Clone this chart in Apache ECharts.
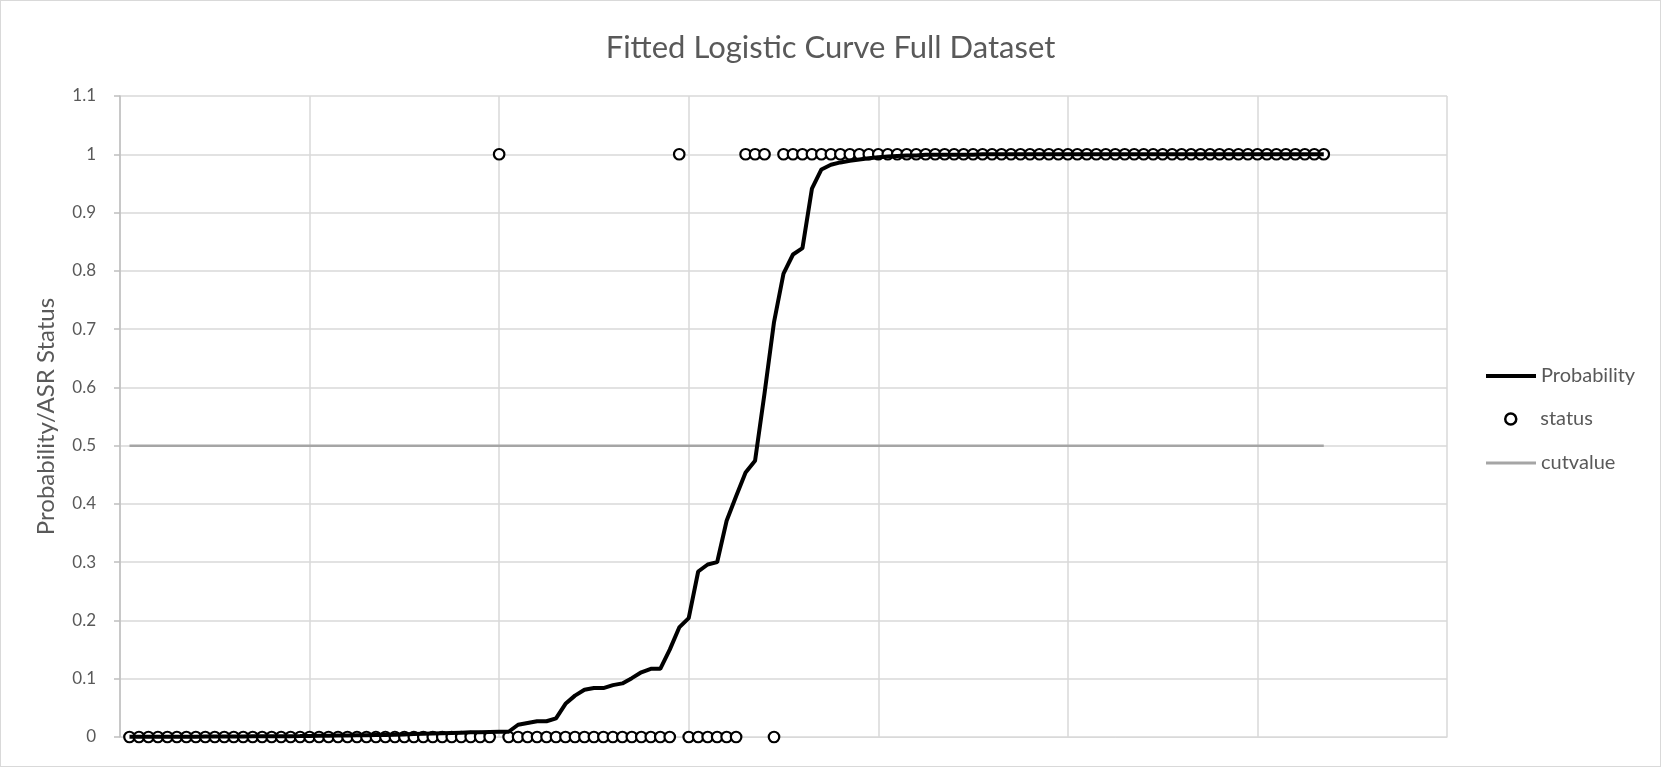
<!DOCTYPE html>
<html>
<head>
<meta charset="utf-8">
<script src="https://cdn.jsdelivr.net/npm/echarts@6/dist/echarts.min.js"></script>
<style>
html,body{margin:0;padding:0;background:#fff;}
#chart{width:1661px;height:767px;box-sizing:border-box;border:1px solid #d9d9d9;}
</style>
</head>
<body>
<div id="chart"></div>
<script>
// status (0/1) for each observation, in order (127 observations)
const statusValues = [
  0,0,0,0,0,0,0,0,0,0, 0,0,0,0,0,0,0,0,0,0, 0,0,0,0,0,0,0,0,0,0, 0,0,0,0,0,0,0,0,0,1,
  0,0,0,0,0,0,0,0,0,0, 0,0,0,0,0,0,0,0,1,0, 0,0,0,0,0,1,1,1,0,1,
  1,1,1,1,1,1,1,1,1,1, 1,1,1,1,1,1,1,1,1,1, 1,1,1,1,1,1,1,1,1,1, 1,1,1,1,1,1,1,1,1,1,
  1,1,1,1,1,1,1,1,1,1, 1,1,1,1,1,1,1
];
// fitted probability for each observation
const probabilityValues = [
  0.0003,0.0003,0.0004,0.0004,0.0005,0.0005,0.0006,0.0006,0.0007,0.0008,
  0.0009,0.0010,0.0010,0.0011,0.0012,0.0013,0.0014,0.0015,0.0016,0.0018,
  0.0020,0.0022,0.0024,0.0026,0.0028,0.0030,0.0033,0.0036,0.0040,0.0045,
  0.0050,0.0055,0.0060,0.0065,0.0070,0.0075,0.0080,0.0082,0.0085,0.0088,
  0.0090,0.021,0.024,0.027,0.027,0.032,0.057,0.071,0.081,0.084,
  0.084,0.089,0.092,0.101,0.111,0.117,0.117,0.150,0.188,0.204,
  0.284,0.296,0.300,0.371,0.413,0.454,0.474,0.590,0.712,0.795,
  0.828,0.839,0.941,0.974,0.982,0.986,0.989,0.991,0.993,0.995,
  0.996,0.997,0.998,0.998,0.999,0.999,0.999,0.999,0.999,0.999,
  1,1,1,1,1,1,1,1,1,1,
  1,1,1,1,1,1,1,1,1,1,
  1,1,1,1,1,1,1,1,1,1,
  1,1,1,1,1,1,1
];
const cutValue = 0.5;
const yTickLabels = ['0','0.1','0.2','0.3','0.4','0.5','0.6','0.7','0.8','0.9','1','1.1'];

const probData = probabilityValues.map((v, i) => [i + 1, v]);
const statusData = statusValues.map((v, i) => [i + 1, v]);
const cutData = [[1, cutValue], [statusValues.length, cutValue]];

const FONT = 'Lato';
const legendText = {fontFamily: FONT, fontSize: 20, color: '#595959'};
const chart = echarts.init(document.getElementById('chart'));
chart.setOption({
  animation: false,
  backgroundColor: '#fff',
  title: {
    text: 'Fitted Logistic Curve Full Dataset',
    left: 'center', top: 26,
    textStyle: {fontFamily: FONT, fontSize: 31, fontWeight: 'normal', color: '#595959'}
  },
  grid: {left: 119, right: 213, top: 95, bottom: 29, containLabel: false},
  legend: [
    {
      left: 1480, top: 360, itemWidth: 50, itemHeight: 4, itemGap: 0,
      textStyle: legendText,
      data: [{name: 'Probability', icon: 'rect'}]
    },
    {
      left: 1498, top: 403, itemWidth: 11, itemHeight: 11, itemGap: 0,
      textStyle: Object.assign({}, legendText, {padding: [0, 0, 0, 19]}),
      data: [{name: 'status', icon: 'circle', itemStyle: {borderWidth: 2.5}}]
    },
    {
      left: 1480, top: 447, itemWidth: 50, itemHeight: 3, itemGap: 0,
      textStyle: legendText,
      data: [{name: 'cutvalue', icon: 'rect'}]
    }
  ],
  xAxis: {
    type: 'value', min: 0, max: 140, interval: 20,
    axisLabel: {show: false}, axisTick: {show: false},
    axisLine: {show: true, lineStyle: {color: '#d9d9d9', width: 1}},
    splitLine: {show: true, lineStyle: {color: '#d9d9d9', width: 1.5}}
  },
  yAxis: {
    type: 'value', min: 0, max: 1.1, interval: 0.1,
    name: 'Probability/ASR Status', nameLocation: 'middle', nameGap: 62,
    nameTextStyle: {fontFamily: FONT, fontSize: 24, color: '#595959'},
    axisLine: {show: true, lineStyle: {color: '#bfbfbf', width: 1.5}},
    axisTick: {show: true, length: 6, lineStyle: {color: '#bfbfbf', width: 1.5}},
    axisLabel: {
      margin: 24, fontFamily: FONT, fontSize: 17, color: '#595959',
      formatter: (v) => yTickLabels[Math.round(v * 10)]
    },
    splitLine: {show: true, lineStyle: {color: '#d9d9d9', width: 1.5}}
  },
  series: [
    {
      name: 'Probability', type: 'line', data: probData, z: 4,
      showSymbol: false, symbol: 'none',
      lineStyle: {color: '#000', width: 4},
      itemStyle: {color: '#000'}
    },
    {
      name: 'status', type: 'scatter', data: statusData, z: 3,
      symbol: 'circle', symbolSize: 10.5,
      itemStyle: {color: '#fff', borderColor: '#000', borderWidth: 2.2, opacity: 1}
    },
    {
      name: 'cutvalue', type: 'line', data: cutData, z: 2,
      showSymbol: false, symbol: 'none',
      lineStyle: {color: '#a5a5a5', width: 2.5},
      itemStyle: {color: '#a5a5a5'}
    }
  ]
});
</script>
</body>
</html>
